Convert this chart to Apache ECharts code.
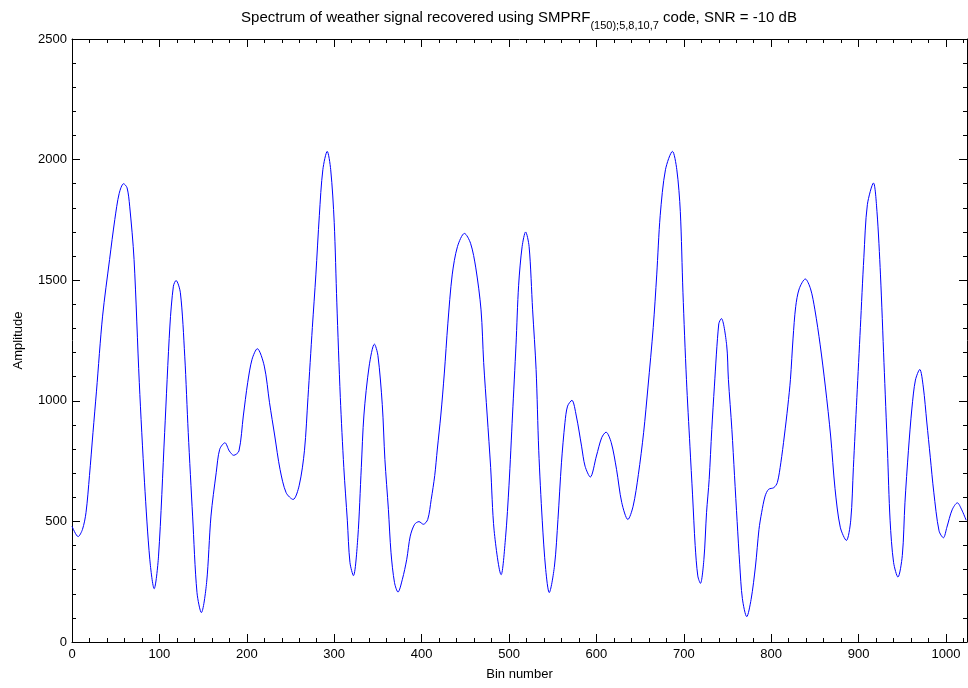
<!DOCTYPE html>
<html>
<head>
<meta charset="utf-8">
<script src="https://cdn.jsdelivr.net/npm/echarts@6/dist/echarts.min.js"></script>
<style>html,body{margin:0;padding:0;background:#fff}#c{width:968px;height:688px}</style>
</head>
<body>
<div id="c"></div>
<script>
// Bin numbers (x) and amplitudes (y)
var bins = [0,7,12,16,20,24,28,35,43,49,54,59,63,66,71,77,83,89,94,99,106,112,116,119,124,129,133,138,143,148,154,159,165,169,175,180,185,191,196,201,206,212,220,226,232,238,245,253,260,266,270,275,279,283,287,292,296,300,303,307,311,315,318,322,327,331,334,340,346,350,355,358,362,365,369,373,378,383,387,392,397,402,407,411,415,418,422,426,430,435,441,449,456,462,468,471,475,479,483,491,496,500,504,508,511,515,519,523,527,531,534,538,542,546,552,556,560,564,567,572,577,583,587,593,600,606,611,617,623,629,636,642,648,654,659,665,669,673,679,687,692,696,699,703,707,710,713,716,719,723,726,729,732,735,740,743,749,751,755,758,761,764,767,772,777,782,786,789,793,797,803,807,811,815,819,822,825,828,832,839,845,850,856,862,868,873,879,886,891,894,898,902,906,910,917,921,925,929,933,936,940,945,950,953,957,961,965,970,974,978,982,986,992,997,1001,1007,1013,1018,1023];
var amps = [480,437,467,536,690,868,1040,1351,1586,1752,1860,1900,1883,1807,1586,1075,660,343,221,356,868,1310,1475,1499,1448,1185,868,522,205,122,246,522,702,799,826,792,774,792,937,1075,1172,1216,1144,992,854,716,619,591,650,795,1014,1304,1522,1769,1958,2034,1958,1740,1406,1014,723,505,330,275,432,723,941,1144,1235,1188,984,757,550,370,246,207,260,343,439,488,499,488,508,591,690,800,941,1115,1319,1522,1639,1694,1653,1551,1377,1159,941,723,461,279,432,650,941,1232,1479,1639,1700,1639,1377,1130,795,505,300,205,315,508,743,909,978,1002,937,812,729,684,771,847,870,826,716,578,508,563,694,868,1057,1304,1522,1769,1958,2034,1958,1784,1450,1089,812,610,400,274,243,343,536,674,881,1061,1319,1341,1232,1089,881,690,500,320,180,105,177,315,467,536,605,633,640,661,743,854,978,1089,1260,1390,1464,1505,1464,1377,1232,1057,854,636,476,421,505,723,1014,1304,1595,1813,1903,1784,1522,1159,795,505,330,269,359,577,795,970,1086,1130,1057,912,766,621,461,432,476,548,577,548,505];
var xMajorTicks = [0,100,200,300,400,500,600,700,800,900,1000];
var xMinorTicks = [20,40,60,80,120,140,160,180,220,240,260,280,320,340,360,380,420,440,460,480,520,540,560,580,620,640,660,680,720,740,760,780,820,840,860,880,920,940,960,980,1020];
var titleMain = 'Spectrum of weather signal recovered using SMPRF';
var titleSub = '(150);5,8,10,7';
var titleEnd = ' code, SNR = -10 dB';

var data = bins.map(function (b, i) { return [b, amps[i]]; });
var FONT = 'Liberation Sans';
var FS = 13;
var chart = echarts.init(document.getElementById('c'), null, {renderer: 'canvas'});
function plain(v) { return String(v); }

function xAx(pos, ticks, len, showLine, showLabel, name) {
  return {
    type: 'value', position: pos, min: 0, max: 1024,
    name: name || '', nameLocation: 'middle', nameGap: 26,
    nameTextStyle: {fontFamily: FONT, fontSize: FS, color: '#000'},
    axisLine: {show: showLine, onZero: false, lineStyle: {color: '#000', width: 1}},
    axisTick: {show: true, inside: true, length: len, customValues: ticks, lineStyle: {color: '#000'}},
    axisLabel: {show: showLabel, customValues: xMajorTicks, margin: 6, formatter: plain, fontFamily: FONT, fontSize: FS, color: '#000'},
    splitLine: {show: false}
  };
}
function yAx(pos, showLabel, name) {
  return {
    type: 'value', position: pos, min: 0, max: 2500, interval: 500,
    name: name || '', nameLocation: 'middle', nameGap: 47, nameRotate: 90,
    nameTextStyle: {fontFamily: FONT, fontSize: FS, color: '#000'},
    axisLine: {show: true, onZero: false, lineStyle: {color: '#000', width: 1}},
    axisTick: {show: true, inside: true, length: 8, lineStyle: {color: '#000'}},
    minorTick: {show: true, splitNumber: 5, length: 4, lineStyle: {color: '#000'}},
    axisLabel: {show: showLabel, margin: 5, formatter: plain, fontFamily: FONT, fontSize: FS, color: '#000'},
    splitLine: {show: false}, minorSplitLine: {show: false}
  };
}

chart.setOption({
  animation: false,
  backgroundColor: '#fff',
  title: {
    left: 514, top: 1, textAlign: 'center',
    text: '{a|' + titleMain + '}{s|' + titleSub + '}{a|' + titleEnd + '}',
    textStyle: {
      rich: {
        a: {fontFamily: FONT, fontSize: 15, fontWeight: 'normal', color: '#000', verticalAlign: 'bottom', lineHeight: 19},
        s: {fontFamily: FONT, fontSize: 11, fontWeight: 'normal', color: '#000', verticalAlign: 'bottom', padding: [0, 0, -6, 0], lineHeight: 19}
      }
    }
  },
  grid: {left: 72, right: 1, top: 39, bottom: 46, containLabel: false},
  xAxis: [
    xAx('bottom', xMajorTicks, 8, true, true, 'Bin number'),
    xAx('bottom', xMinorTicks, 4, false, false),
    xAx('top', xMajorTicks, 8, true, false),
    xAx('top', xMinorTicks, 4, false, false)
  ],
  yAxis: [
    yAx('left', true, 'Amplitude'),
    yAx('right', false)
  ],
  series: [{
    type: 'line', xAxisIndex: 0, yAxisIndex: 0, data: data,
    showSymbol: false, smooth: 0.3,
    lineStyle: {color: '#0000ff', width: 1}
  }]
});
</script>
</body>
</html>
